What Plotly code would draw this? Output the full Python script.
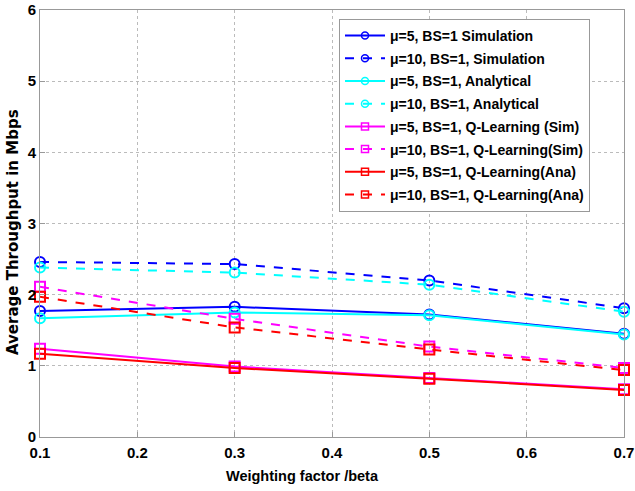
import plotly.graph_objects as go

beta = [0.1, 0.3, 0.5, 0.7]

sim_mu5 = [1.77, 1.83, 1.72, 1.45]
sim_mu10 = [2.46, 2.43, 2.20, 1.81]
ana_mu5 = [1.67, 1.75, 1.71, 1.44]
ana_mu10 = [2.38, 2.31, 2.14, 1.76]
ql_sim_mu5 = [1.24, 0.99, 0.83, 0.67]
ql_sim_mu10 = [2.11, 1.66, 1.27, 0.97]
ql_ana_mu5 = [1.17, 0.97, 0.82, 0.66]
ql_ana_mu10 = [1.97, 1.54, 1.23, 0.94]

names = [
    "μ=5, BS=1 Simulation",
    "μ=10, BS=1, Simulation",
    "μ=5, BS=1, Analytical",
    "μ=10, BS=1, Analytical",
    "μ=5, BS=1, Q-Learning (Sim)",
    "μ=10, BS=1, Q-Learning(Sim)",
    "μ=5, BS=1, Q-Learning(Ana)",
    "μ=10, BS=1, Q-Learning(Ana)",
]
series = [sim_mu5, sim_mu10, ana_mu5, ana_mu10, ql_sim_mu5, ql_sim_mu10, ql_ana_mu5, ql_ana_mu10]
colors = ["#0000ff", "#0000ff", "#00ffff", "#00ffff", "#ff00ff", "#ff00ff", "#ff0000", "#ff0000"]
dashes = ["solid", "dash", "solid", "dash", "solid", "dash", "solid", "dash"]
symbols = ["circle-open"] * 4 + ["square-open"] * 4

fig = go.Figure()
for i, (name, ys, c, d, s) in enumerate(zip(names, series, colors, dashes, symbols)):
    fig.add_trace(go.Scatter(
        x=beta, y=ys, name=name, mode="lines+markers", legendgroup=f"g{i}",
        showlegend=False, cliponaxis=False,
        line=dict(color=c, width=2, dash=d),
        marker=dict(symbol=s, size=10, color=c, line=dict(width=2, color=c)),
    ))
    # legend entry with the smaller marker used in the reference legend
    fig.add_trace(go.Scatter(
        x=[None], y=[None], name=name, mode="lines+markers", legendgroup=f"g{i}",
        line=dict(color=c, width=2, dash=d),
        marker=dict(symbol=s, size=7, color=c, line=dict(width=1.5, color=c)),
    ))

axis_common = dict(
    showline=True, linecolor="#999999", linewidth=1, mirror=True,
    showgrid=True, gridcolor="#bbbbbb", griddash="dot", gridwidth=1,
    ticks="inside", ticklen=5, tickcolor="#999999",
    zeroline=False, automargin=False,
    tickfont=dict(family="Arial, Liberation Sans", size=15, color="black", weight="bold"),
)

fig.update_layout(
    width=635, height=491,
    margin=dict(l=40, r=11, t=10, b=54),
    paper_bgcolor="white", plot_bgcolor="white",
    font=dict(family="Arial, Liberation Sans", color="black"),
    xaxis=dict(range=[0.1, 0.7], dtick=0.1, tick0=0.1, ticklabelstandoff=2, **axis_common),
    yaxis=dict(range=[0, 6], dtick=1, ticklabelstandoff=0, **axis_common),
    legend=dict(x=(339 - 40) / 584, y=(437 - 19) / 427, xanchor="left", yanchor="top",
                bgcolor="white", bordercolor="#999999", borderwidth=1,
                font=dict(size=14, weight="bold", color="black"),
                itemwidth=40, tracegroupgap=1.5),
    showlegend=True,
    annotations=[
        dict(text="Weighting factor /beta", xref="paper", yref="paper",
             x=(302 - 40) / 584, y=(437 - 476) / 427, xanchor="center", yanchor="middle",
             showarrow=False, font=dict(family="Arial, Liberation Sans", size=14.5, weight="bold", color="black")),
        dict(text="Average Throughput in Mbps", xref="paper", yref="paper",
             x=(13 - 40) / 584, y=(437 - 232) / 427, xanchor="center", yanchor="middle",
             textangle=-90, showarrow=False,
             font=dict(family="DejaVu Sans", size=15, weight="bold", color="black")),
    ],
)

fig.write_html("out.html")
